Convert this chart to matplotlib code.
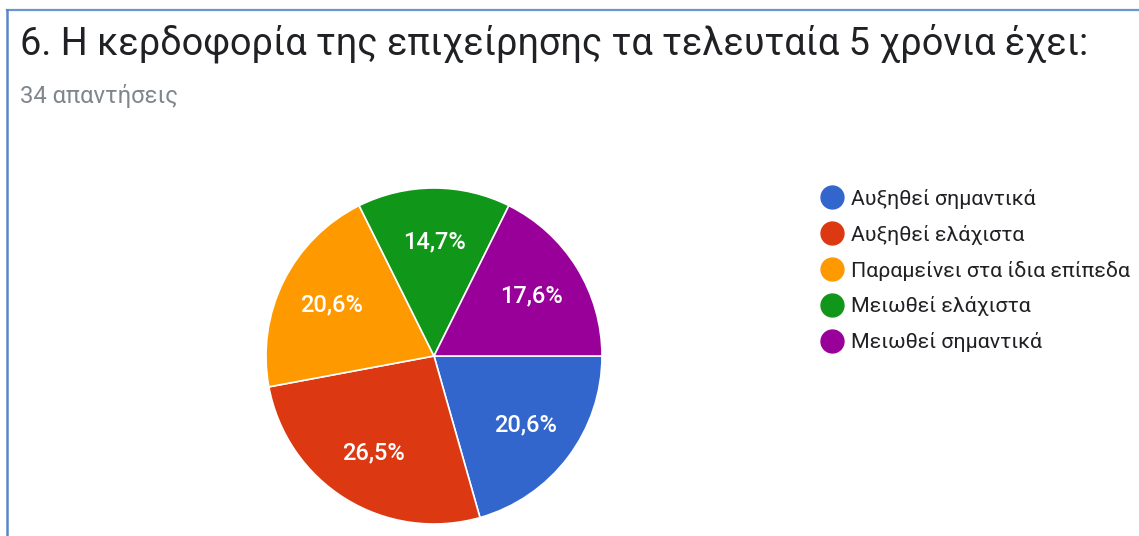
import matplotlib
matplotlib.use("Agg")
import matplotlib.pyplot as plt
from matplotlib.lines import Line2D

plt.rcParams['font.family'] = ['Roboto', 'DejaVu Sans']

title = "6. Η κερδοφορία της επιχείρησης τα τελευταία 5 χρόνια έχει:"
subtitle = "34 απαντήσεις"
labels = ["Αυξηθεί σημαντικά", "Αυξηθεί ελάχιστα", "Παραμείνει στα ίδια επίπεδα",
          "Μειωθεί ελάχιστα", "Μειωθεί σημαντικά"]
counts = [7, 9, 7, 5, 6]
colors = ["#3366cc", "#dc3912", "#ff9900", "#109618", "#990099"]

W, H = 1139, 536
fig = plt.figure(figsize=(W / 100, H / 100), dpi=100)

# frame lines (top and left)
fig.add_artist(Line2D([7 / W, 1], [1 - 10 / H, 1 - 10 / H], color="#6a95cf", lw=1.6))
fig.add_artist(Line2D([7 / W, 7 / W], [0, 1 - 10 / H], color="#5a86c6", lw=1.8))

fig.text(20 / W, 1 - 43 / H, title, fontsize=27.3, color="#202124", va="center", ha="left")
fig.text(20 / W, 1 - 96 / H, subtitle, fontsize=17.2, color="#80868b", va="center", ha="left")

# pie
cx, cy, r = 434, 356, 168
ax = fig.add_axes([(cx - r) / W, (H - cy - r) / H, 2 * r / W, 2 * r / H])
wedges, texts, autotexts = ax.pie(
    counts, colors=colors, startangle=0, counterclock=False, radius=1,
    autopct=lambda p: f"{p:.1f}%".replace(".", ","), pctdistance=0.68,
    wedgeprops=dict(edgecolor="white", linewidth=1.2),
    textprops=dict(color="white", fontsize=17, fontweight="medium"))
ax.set_xlim(-1, 1)
ax.set_ylim(-1, 1)
ax.set_aspect("equal")
ax.axis("off")

handles = [Line2D([], [], marker="o", linestyle="none", markersize=16.5,
                  markerfacecolor=c, markeredgecolor=c) for c in colors]
fig.legend(handles, labels, loc="upper left", bbox_to_anchor=(808 / W, 1 - 178 / H),
           frameon=False, fontsize=15.4, labelspacing=0.745, handletextpad=0.3,
           handlelength=1.2, borderpad=0, labelcolor="#202124")

fig.savefig("out.png", dpi=100)
